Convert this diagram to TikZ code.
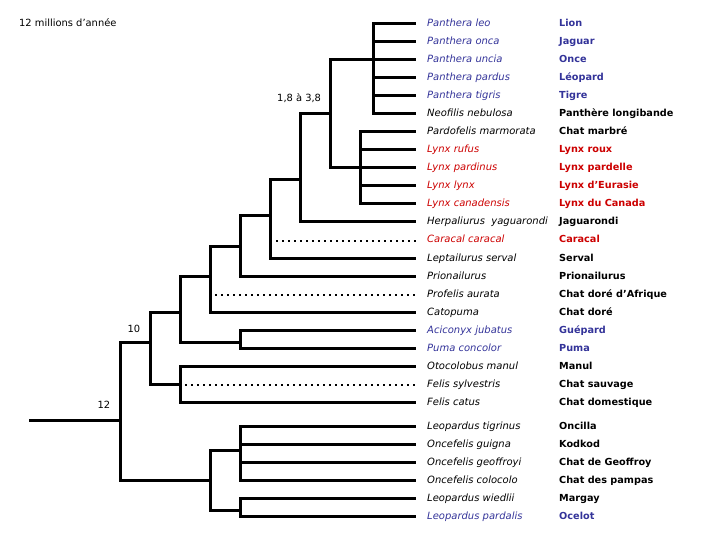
\documentclass[tikz,border=0pt]{standalone}
\usepackage{fontspec}
\setmainfont{DejaVu Sans}
\definecolor{cblue}{HTML}{333399}
\definecolor{cred}{HTML}{CC0000}
\begin{document}
\begin{tikzpicture}[x=1pt,y=-1pt,
  br/.style={line width=3pt},
  dotl/.style={line width=2pt,dash pattern=on 2pt off 4pt},
  sci/.style={anchor=base west,inner sep=0pt,font=\fontsize{10}{11}\selectfont\itshape},
  com/.style={anchor=base west,inner sep=0pt,font=\fontsize{9.7}{11}\selectfont\bfseries},
  lab/.style={anchor=base west,inner sep=0pt,font=\fontsize{9.9}{11}\selectfont}]
\useasboundingbox (0,0) rectangle (720,540);
\foreach \n/\y/\s/\c/\col in {
 0/24/Panthera leo/Lion/cblue,
 1/42/Panthera onca/Jaguar/cblue,
 2/60/Panthera uncia/Once/cblue,
 3/78/Panthera pardus/Léopard/cblue,
 4/96/Panthera tigris/Tigre/cblue,
 5/114/Neofilis nebulosa/Panthère longibande/black,
 6/132/Pardofelis marmorata/Chat marbré/black,
 7/150/Lynx rufus/Lynx roux/cred,
 8/168/Lynx pardinus/Lynx pardelle/cred,
 9/186/Lynx lynx/Lynx d’Eurasie/cred,
 10/204/Lynx canadensis/Lynx du Canada/cred,
 11/222/Herpaliurus\ \ yaguarondi/Jaguarondi/black,
 12/240.5/Caracal caracal/Caracal/cred,
 13/258.5/Leptailurus serval/Serval/black,
 14/276.5/Prionailurus/Prionailurus/black,
 15/294.5/Profelis aurata/Chat doré d’Afrique/black,
 16/312.5/Catopuma/Chat doré/black,
 17/330.5/Aciconyx jubatus/Guépard/cblue,
 18/348.5/Puma concolor/Puma/cblue,
 19/366.5/Otocolobus manul/Manul/black,
 20/384.5/Felis sylvestris/Chat sauvage/black,
 21/402.5/Felis catus/Chat domestique/black,
 22/426.5/Leopardus tigrinus/Oncilla/black,
 23/444.5/Oncefelis guigna/Kodkod/black,
 24/462.5/Oncefelis geoffroyi/Chat de Geoffroy/black,
 25/480.5/Oncefelis colocolo/Chat des pampas/black,
 26/498.5/Leopardus wiedlii/Margay/black,
 27/516.5/Leopardus pardalis/Ocelot/cblue}{
  \coordinate (e\n) at (416,\y);
  \node[sci,text=\col] (s\n) at (427,\y+2.5) {\s};
  \node[com,text=\col] (c\n) at (559,\y+2.5) {\c};
}
% internal nodes
\coordinate (nPan) at (373,60);
\coordinate (nLyn) at (360,168);
\coordinate (nA) at (330,114);
\coordinate (nB) at (300,180);
\coordinate (nC) at (270,216);
\coordinate (nD) at (240,246);
\coordinate (nE) at (210,276);
\coordinate (nF) at (240,342);
\coordinate (nG) at (180,312);
\coordinate (nH) at (180,384.5);
\coordinate (nI) at (150,342);
\coordinate (nJ) at (240,450);
\coordinate (nK) at (240,510);
\coordinate (nL) at (210,480);
\coordinate (nR) at (120,420);
\coordinate (start) at (29,420);
\coordinate (dC) at (276,240.5);
\coordinate (dE) at (215,294.5);
\coordinate (dH) at (185,384.5);
% branches
\foreach \k in {0,...,5} \draw[br] (nPan) |- (e\k);
\foreach \k in {6,...,10} \draw[br] (nLyn) |- (e\k);
\draw[br] (nA) |- (nPan);
\draw[br] (nA) |- (nLyn);
\draw[br] (nB) |- (nA);
\draw[br] (nB) |- (e11);
\draw[br] (nC) |- (nB);
\draw[br] (nC) |- (e13);
\draw[dotl] (dC) -- (e12);
\draw[br] (nD) |- (nC);
\draw[br] (nD) |- (e14);
\draw[br] (nE) |- (nD);
\draw[br] (nE) |- (e16);
\draw[dotl] (dE) -- (e15);
\draw[br] (nF) |- (e17);
\draw[br] (nF) |- (e18);
\draw[br] (nG) |- (nE);
\draw[br] (nG) |- (nF);
\draw[br] (nH) |- (e19);
\draw[br] (nH) |- (e21);
\draw[dotl] (dH) -- (e20);
\draw[br] (nI) |- (nG);
\draw[br] (nI) |- (nH);
\foreach \k in {22,...,25} \draw[br] (nJ) |- (e\k);
\draw[br] (nK) |- (e26);
\draw[br] (nK) |- (e27);
\draw[br] (nL) |- (nJ);
\draw[br] (nL) |- (nK);
\draw[br] (nR) |- (nI);
\draw[br] (nR) |- (nL);
\draw[br] (start) -- (nR);
% labels
\node[lab] (title) at (19,26.5) {12 millions d’année};
\node[lab] (l18) at (277,102) {1,8 à 3,8};
\node[lab] (l10) at (127.5,332) {10};
\node[lab] (l12) at (97.5,408) {12};
\end{tikzpicture}
\end{document}
